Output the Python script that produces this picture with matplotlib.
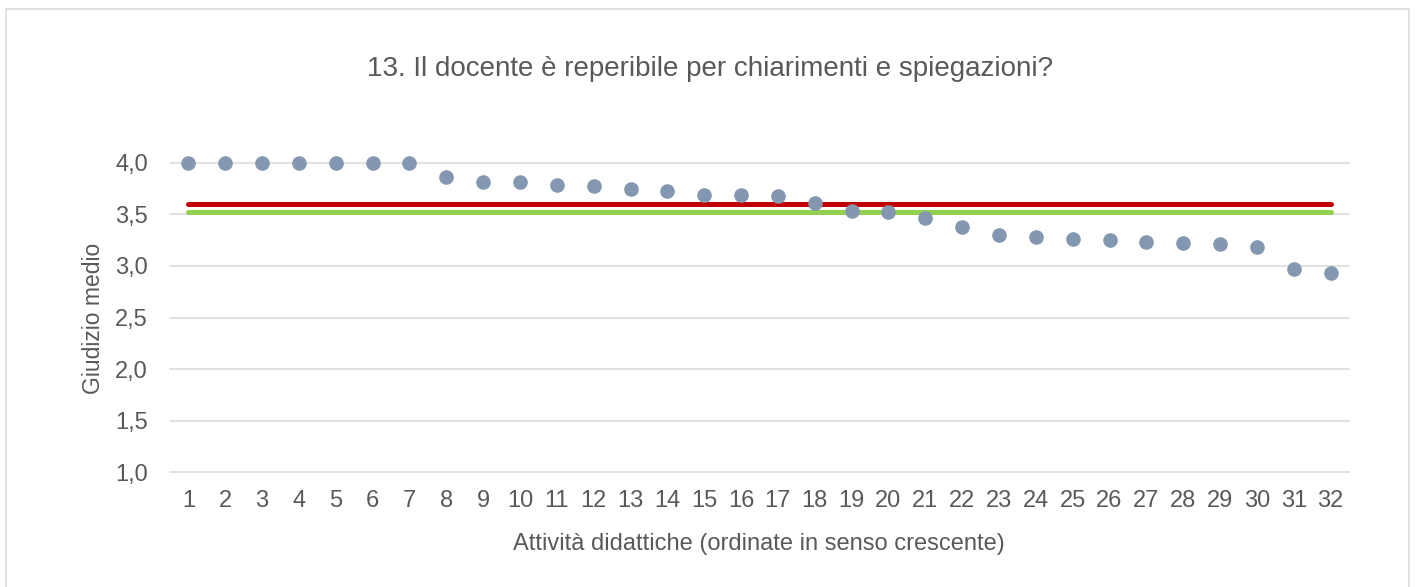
import matplotlib
matplotlib.use("Agg")
import matplotlib.pyplot as plt
from matplotlib.patches import Rectangle

plt.rcParams['font.family'] = ['Liberation Sans', 'DejaVu Sans']

categories = list(range(1, 33))
values = [4.00, 4.00, 4.00, 4.00, 4.00, 4.00, 4.00, 3.86, 3.81, 3.81,
          3.78, 3.77, 3.745, 3.726, 3.687, 3.687, 3.68, 3.613, 3.535, 3.52,
          3.464, 3.374, 3.296, 3.283, 3.264, 3.25, 3.235, 3.222, 3.215, 3.183,
          2.967, 2.93]
mean_red = 3.597
mean_green = 3.52
yticks = [1.0, 1.5, 2.0, 2.5, 3.0, 3.5, 4.0]
ytick_labels = ["1,0", "1,5", "2,0", "2,5", "3,0", "3,5", "4,0"]

W, H = 1421, 587
fig = plt.figure(figsize=(W / 100, H / 100), dpi=100)
fig.patch.set_facecolor('white')

# outer border
fig.patches.append(Rectangle((6 / W, -0.05), (1408.5 - 6) / W, 1 - 9 / H + 0.05,
                             transform=fig.transFigure, fill=False,
                             edgecolor='#d9d9d9', linewidth=1.1))

ax = fig.add_axes([170 / W, 1 - 472.3 / H, (1349 - 170) / W, (472.3 - 162.7) / H])
ax.set_xlim(0.5, 32.5)
ax.set_ylim(1.0, 4.0)

for y in yticks:
    ax.axhline(y, color='#d9d9d9', linewidth=1.1, zorder=1, clip_on=False)

ax.plot([categories[0], categories[-1]], [mean_red, mean_red], color='#c00000',
        linewidth=3.6, solid_capstyle='round', zorder=2)
ax.plot([categories[0], categories[-1]], [mean_green, mean_green], color='#92d050',
        linewidth=3.6, solid_capstyle='round', zorder=2)
ax.plot(categories, values, linestyle='none', marker='o', markersize=9.5,
        color='#8497b0', markeredgecolor='#8497b0', zorder=3, clip_on=False)

for s in ax.spines.values():
    s.set_visible(False)
ax.set_yticks(yticks)
ax.set_yticklabels(ytick_labels)
ax.set_xticks(categories)
ax.set_xticklabels([str(c) for c in categories])
ax.tick_params(axis='y', length=0, pad=16, labelsize=17, labelcolor='#595959')
ax.tick_params(axis='x', length=0, pad=13, labelsize=17, labelcolor='#595959')

fig.text(710 / W, 1 - 69 / H, "13. Il docente è reperibile per chiarimenti e spiegazioni?",
         ha='center', va='center', fontsize=20, color='#595959')
fig.text(759 / W, 1 - 544 / H, "Attività didattiche (ordinate in senso crescente)",
         ha='center', va='center', fontsize=17, color='#595959')
fig.text(93 / W, 1 - 318 / H, "Giudizio medio", rotation=90,
         ha='center', va='center', fontsize=16.5, color='#595959')

fig.savefig("out.png", dpi=100, facecolor='white')
